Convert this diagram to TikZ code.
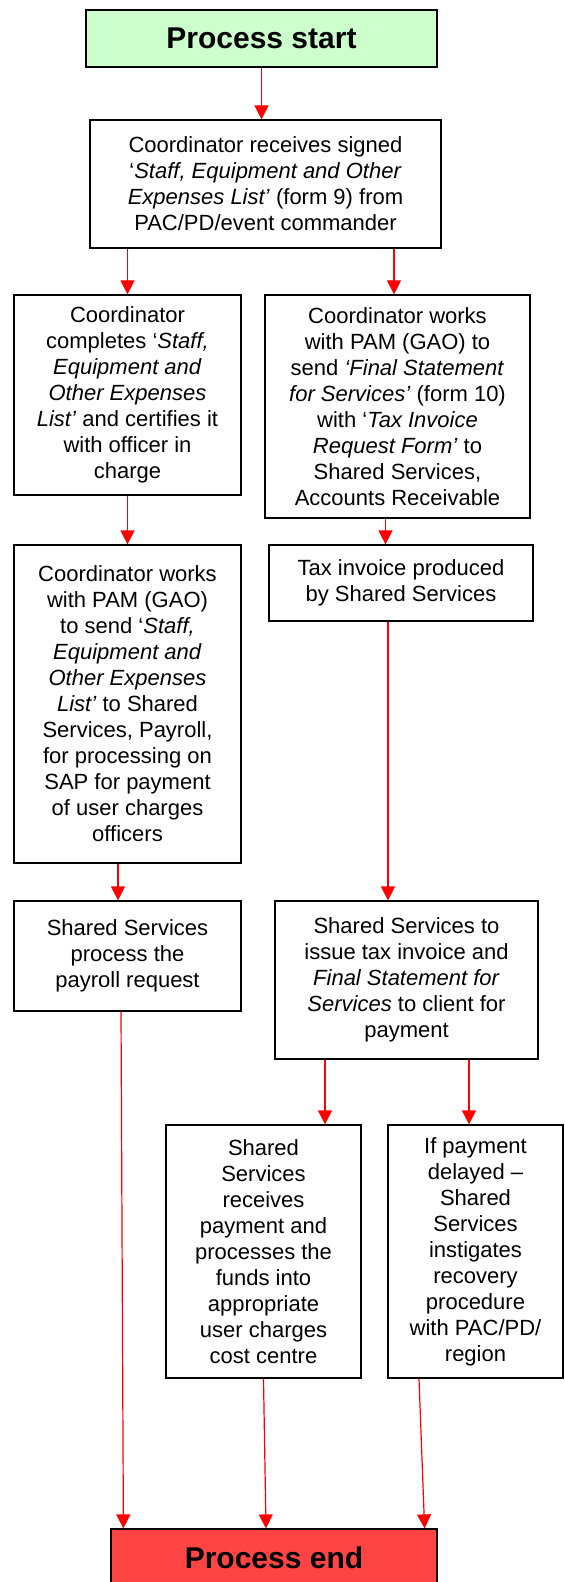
\documentclass[tikz,border=0pt]{standalone}
\usepackage{fontspec}
\setmainfont{Liberation Sans}
\usetikzlibrary{arrows.meta}
\definecolor{startgreen}{RGB}{204,255,204}
\definecolor{endred}{RGB}{255,68,68}
\definecolor{flowred}{RGB}{255,0,0}
\tikzset{
	stepbox/.style={draw=black, line width=0.6pt, align=center, inner sep=2pt, font=\fontsize{11}{13}\selectfont},
	termbox/.style={draw=black, line width=0.6pt, inner sep=2pt, font=\fontsize{15}{18}\selectfont\bfseries},
	flow/.style={draw=flowred, line width=0.6pt, -{Triangle[width=7pt,length=7pt]}},
}

\begin{document}
\begin{tikzpicture}[x=0.5pt, y=-0.5pt]
		%%%%% START %%%%%
		
		\useasboundingbox (0, 0) rectangle (565, 1582);
		\clip (0, 0) rectangle (565, 1582);
		
		\node[termbox, fill=startgreen, minimum width=175.5pt, minimum height=28.5pt] (start) at (261.5, 38.5) {Process start};
		
		\node[stepbox, minimum width=175.5pt, minimum height=64pt] (receive) at (265.5, 184) {Coordinator receives signed\\ ‘\textit{Staff, Equipment and Other}\\ \textit{Expenses List’} (form 9) from\\ PAC/PD/event commander};
		
		\node[stepbox, minimum width=113.5pt, minimum height=100pt] (complete) at (127.5, 395) {Coordinator\\ completes ‘\textit{Staff,}\\ \textit{Equipment and}\\ \textit{Other Expenses}\\ \textit{List’} and certifies it\\ with officer in\\ charge};
		\node[stepbox, minimum width=132.5pt, minimum height=111.5pt] (statement) at (397.5, 406.5) {Coordinator works\\ with PAM (GAO) to\\ send \textit{‘Final Statement}\\ \textit{for Services’} (form 10)\\ with ‘\textit{Tax Invoice}\\ \textit{Request Form’} to\\ Shared Services,\\ Accounts Receivable};
		
		\node[stepbox, minimum width=113.5pt, minimum height=159pt] (payroll) at (127.5, 704) {Coordinator works\\ with PAM (GAO)\\ to send ‘\textit{Staff,}\\ \textit{Equipment and}\\ \textit{Other Expenses}\\ \textit{List’} to Shared\\ Services, Payroll,\\ for processing on\\ SAP for payment\\ of user charges\\ officers};
		\node[stepbox, minimum width=132pt, minimum height=38pt] (invoice) at (401, 583) {Tax invoice produced\\ by Shared Services};
		
		\node[stepbox, minimum width=113.5pt, minimum height=55pt] (request) at (127.5, 956) {Shared Services\\ process the\\ payroll request};
		\node[stepbox, minimum width=131.5pt, minimum height=79pt] (issue) at (406.5, 980) {Shared Services to\\ issue tax invoice and\\ \textit{Final Statement for}\\ \textit{Services} to client for\\ payment};
		
		\node[stepbox, minimum width=97.5pt, minimum height=126.5pt] (funds) at (263.5, 1251.5) {Shared\\ Services\\ receives\\ payment and\\ processes the\\ funds into\\ appropriate\\ user charges\\ cost centre};
		\node[stepbox, minimum width=87.5pt, minimum height=126.5pt] (recovery) at (475.5, 1251.5) {If payment\\ delayed --\\ Shared\\ Services\\ instigates\\ recovery\\ procedure\\ with PAC/PD/\\ region};
		
		\node[termbox, fill=endred, minimum width=163pt, minimum height=28.5pt] (end) at (274, 1557.5) {Process end};
		
		% connectors
		\draw[flow] (start.south) -- (start.south |- receive.north);
		\draw[flow] (complete.north |- receive.south) -- (complete.north);
		\draw[flow] ([xshift=-1.75pt]statement.north |- receive.south) -- ([xshift=-1.75pt]statement.north);
		\draw[flow] (complete.south) -- (payroll.north);
		\draw[flow] ([xshift=-6pt]statement.south) -- ([xshift=-6pt]statement.south |- invoice.north);
		\draw[flow] ([xshift=-4.75pt]payroll.south) -- ([xshift=-4.75pt]payroll.south |- request.north);
		\draw[flow] ([xshift=-6.5pt]invoice.south) -- ([xshift=-6.5pt]invoice.south |- issue.north);
		\draw[flow] ([xshift=-40.75pt]issue.south) -- ([xshift=-40.75pt]issue.south |- funds.north);
		\draw[flow] ([xshift=31.25pt]issue.south) -- ([xshift=31.25pt]issue.south |- recovery.north);
		\draw[flow] ([xshift=-3.25pt]request.south) -- ([xshift=6.5pt]end.north west);
		\draw[flow] (funds.south) -- ([xshift=-4pt]end.north);
		\draw[flow] ([xshift=-28.25pt]recovery.south) -- ([xshift=-6.5pt]end.north east);
		
		%%%%% END %%%%%
	\end{tikzpicture}
\end{document}
